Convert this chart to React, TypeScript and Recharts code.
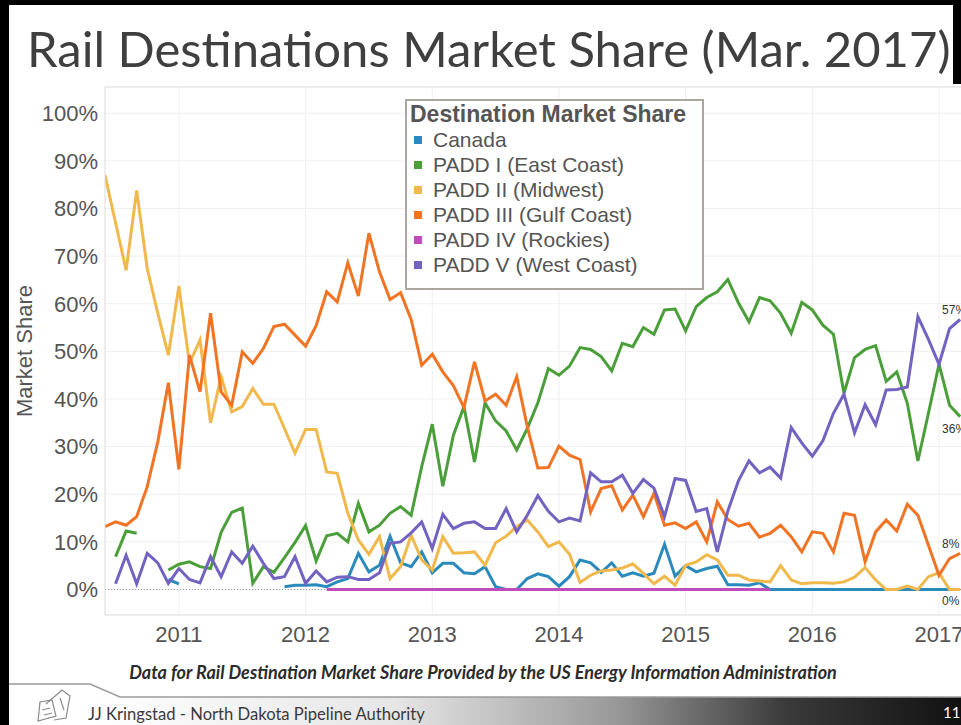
import React from "react";
import { CartesianGrid, Legend, Line, LineChart, ReferenceLine, XAxis, YAxis } from "recharts";

// monthly points, Jun 2010 .. Mar 2017
const firstYear = 2010;
const firstMonth = 6;
const monthCount = 82;

const canada = [
  null, null, null, null, null, null, 2.1, 1.2, null, null, null, null, null, 6.2, null, null, null, 0.6, 0.9, 0.9,
  1.0, 0.6, 1.6, 2.3, 7.6, 3.7, 5.1, 11.2, 5.6, 4.8, 7.9, 3.5, 5.5, 5.5, 3.5, 3.3, 4.8, 0.6, 0, 0,
  2.3, 3.3, 2.7, 0.7, 2.7, 6.2, 5.6, 3.6, 5.6, 2.8, 3.5, 2.8, 3.4, 9.5, 2.8, 5.0, 3.7, 4.4, 4.9, 1.0,
  1.0, 0.9, 1.4, 0, 0, 0, 0, 0, 0, 0, 0, 0, 0, 0, 0, 0, 0, 0, 0, 0,
  0, 0,
];

const paddI = [
  null, 6.9, 12.3, 11.8, null, null, 4.1, 5.3, 5.8, 4.8, 4.4, 12.0, 16.2, 17.1, 1.3, 4.8, 3.6, 6.7, 9.9, 13.4,
  6.0, 11.3, 11.8, 10.0, 18.1, 12.1, 13.5, 16.0, 17.4, 15.6, 25.8, 34.7, 21.7, 32.4, 38.4, 26.8, 39.2, 35.4, 33.3, 29.3,
  33.8, 39.2, 46.4, 45.0, 46.9, 50.8, 50.4, 48.9, 45.9, 51.7, 51.0, 55.0, 53.6, 58.7, 58.9, 54.3, 59.4, 61.3, 62.5, 65.1,
  60.2, 56.2, 61.3, 60.6, 58.0, 53.8, 60.3, 58.7, 55.5, 53.6, 41.2, 48.7, 50.4, 51.2, 43.7, 45.7, 39.1, 27.0, 37.0, 47.3,
  38.7, 36.3,
];

const paddII = [
  87.0, 77.0, 67.0, 83.8, 67.4, 58.0, 49.2, 63.7, 47.5, 52.4, 35.0, 44.7, 37.3, 38.4, 42.2, 38.9, 38.9, 33.8, 28.6, 33.6,
  33.6, 24.7, 24.4, 16.0, 10.4, 7.4, 11.1, 2.3, 4.8, 11.4, 6.2, 4.1, 11.1, 7.6, 7.7, 7.9, 5.1, 9.8, 11.2, 13.2,
  14.6, 12.1, 9.0, 10.0, 7.4, 1.5, 3.0, 3.9, 4.1, 4.5, 5.4, 3.4, 1.2, 2.8, 0.9, 5.1, 5.8, 7.3, 6.2, 3.0,
  3.0, 2.0, 1.8, 1.6, 5.0, 2.0, 1.2, 1.4, 1.4, 1.3, 1.6, 2.6, 4.6, 2.0, 0, 0, 0.7, 0, 2.7, 3.5,
  0, 0,
];

const paddIII = [
  13.2, 14.2, 13.5, 15.3, 21.6, 31.0, 43.4, 25.2, 49.2, 41.5, 58.0, 41.5, 38.7, 49.9, 47.5, 50.6, 55.2, 55.7, 53.4, 51.1,
  55.4, 62.5, 60.4, 68.6, 61.6, 74.8, 66.7, 60.9, 62.3, 56.7, 47.1, 49.4, 45.7, 42.8, 38.2, 47.8, 39.6, 41.0, 38.7, 44.7,
  34.2, 25.5, 25.6, 30.1, 28.2, 27.3, 16.3, 21.2, 21.8, 16.7, 19.8, 15.3, 20.2, 13.5, 14.0, 12.8, 14.2, 10.0, 18.4, 14.7,
  13.3, 13.9, 11.0, 11.8, 13.5, 11.1, 7.9, 12.1, 11.8, 7.9, 16.0, 15.6, 5.8, 12.1, 14.6, 12.3, 17.9, 15.6, 9.3, 3.0,
  6.5, 7.6,
];

const paddIV = [
  null, null, null, null, null, null, null, null, null, null, null, null, null, null, null, null, null, null, null, null,
  null, 0, 0, 0, 0, 0, 0, 0, 0, 0, 0, 0, 0, 0, 0, 0, 0, 0, 0, 0,
  0, 0, 0, 0, 0, 0, 0, 0, 0, 0, 0, 0, 0, 0, 0, 0, 0, 0, 0, 0,
  0, 0, 0, 0, null, null, null, null, null, null, null, null, null, null, null, null, null, null, null, null,
  null, null,
];

const paddV = [
  null, 1.2, 7.2, 1.2, 7.6, 5.6, 1.3, 4.4, 2.1, 1.4, 6.9, 2.7, 7.9, 5.5, 9.1, 5.5, 2.3, 2.7, 6.9, 1.3,
  3.9, 1.6, 2.6, 2.7, 2.1, 2.1, 3.5, 9.7, 10.0, 11.9, 14.2, 8.6, 15.8, 12.8, 13.9, 14.2, 12.8, 12.8, 17.0, 12.1,
  15.6, 19.7, 16.4, 14.2, 15.0, 14.4, 24.5, 22.6, 22.6, 24.0, 20.2, 23.1, 21.3, 15.3, 23.3, 22.9, 16.4, 17.0, 7.9, 16.5,
  22.8, 27.0, 24.5, 25.7, 23.4, 34.0, 30.8, 28.0, 31.2, 37.0, 41.0, 32.9, 38.8, 34.6, 41.9, 42.0, 42.5, 57.3, 52.5, 47.3,
  54.8, 56.7,
];

const yearTicks = [2011, 2012, 2013, 2014, 2015, 2016, 2017];
const shareTicks = [0, 10, 20, 30, 40, 50, 60, 70, 80, 90, 100];

const series = [
  { key: "canada", name: "Canada", color: "#2a8abb", values: canada, endLabel: true, labelDy: 11 },
  { key: "paddI", name: "PADD I (East Coast)", color: "#4b9f3a", values: paddI, endLabel: true, labelDy: 12 },
  { key: "paddII", name: "PADD II (Midwest)", color: "#f1b84b", values: paddII, endLabel: false, labelDy: 0 },
  { key: "paddIII", name: "PADD III (Gulf Coast)", color: "#f07424", values: paddIII, endLabel: true, labelDy: -10 },
  { key: "paddIV", name: "PADD IV (Rockies)", color: "#c04cbb", values: paddIV, endLabel: false, labelDy: 0 },
  { key: "paddV", name: "PADD V (West Coast)", color: "#7462c1", values: paddV, endLabel: true, labelDy: -10 },
];

const rows = Array.from({ length: monthCount }, (_, i) => {
  const m = firstMonth - 1 + i;
  const row: Record<string, number | null> = { t: firstYear + m / 12 };
  series.forEach((s) => {
    row[s.key] = s.values[i];
  });
  return row;
});

const axisFont = "'Liberation Sans', Arial, sans-serif";
const slideFont = "Lato, 'Open Sans', sans-serif";

function LegendBox() {
  return (
    <div
      style={{
        width: 295,
        height: 187,
        border: "2px solid #aaa79f",
        background: "#fff",
        fontFamily: axisFont,
        color: "#555",
        boxSizing: "content-box",
      }}
    >
      <div style={{ fontSize: 23, fontWeight: "bold", margin: "0 0 0 3px", lineHeight: "26px" }}>
        Destination Market Share
      </div>
      {series.map((s) => (
        <div key={s.key} style={{ display: "flex", alignItems: "center", height: 25, fontSize: 21, marginLeft: 7 }}>
          <span style={{ width: 8, height: 8, background: s.color, marginRight: 11, display: "inline-block" }} />
          <span>{s.name}</span>
        </div>
      ))}
    </div>
  );
}

function endLabel(dy: number, count: number) {
  return (props: any) => {
    const { index, value } = props;
    const x = props.x ?? props.viewBox?.x;
    const y = props.y ?? props.viewBox?.y;
    if (index !== count - 1 || value == null) return <g />;
    return (
      <text x={x - 18} y={y + dy} dy="0.35em" fontSize={12} fontFamily={axisFont} fill="#333">
        {Math.round(value)}%
      </text>
    );
  };
}

function Chart() {
  return (
    <LineChart width={977} height={660} data={rows} margin={{ top: 87, right: 0, left: 5, bottom: 0 }}>
      <CartesianGrid stroke="#efefef" />
      <XAxis
        dataKey="t"
        type="number"
        domain={[firstYear + (firstMonth - 1) / 12, 2017.3]}
        ticks={yearTicks}
        allowDataOverflow
        tickFormatter={(v) => String(v)}
        tick={{ fill: "#555", fontSize: 22, fontFamily: axisFont }}
        tickLine={false}
        tickSize={0}
        tickMargin={11}
        axisLine={{ stroke: "#e2e2e2" }}
        height={45}
      />
      <YAxis
        type="number"
        domain={[-5.35, 105.5]}
        ticks={shareTicks}
        allowDataOverflow
        tickFormatter={(v) => `${v}%`}
        tick={{ fill: "#555", fontSize: 22, fontFamily: axisFont }}
        tickLine={false}
        tickSize={0}
        tickMargin={7}
        axisLine={{ stroke: "#e2e2e2" }}
        width={100}
        label={{
          content: (p: any) => {
            const vb = p.viewBox || {};
            const cx = (vb.x ?? 5) + 19;
            const cy = (vb.y ?? 87) + (vb.height ?? 528) / 2;
            return (
              <text
                x={cx}
                y={cy}
                transform={`rotate(-90 ${cx} ${cy})`}
                textAnchor="middle"
                dominantBaseline="central"
                fontSize={22}
                fontFamily={axisFont}
                fill="#555"
              >
                Market Share
              </text>
            );
          },
        }}
      />
      <ReferenceLine y={105.5} stroke="#e2e2e2" />
      <ReferenceLine y={0} stroke="#9a9a9a" strokeDasharray="1 2" />
      {series.map((s) => (
        <Line
          key={s.key}
          type="linear"
          dataKey={s.key}
          name={s.name}
          stroke={s.color}
          strokeWidth={3}
          dot={false}
          activeDot={false}
          isAnimationActive={false}
          label={s.endLabel ? endLabel(s.labelDy, monthCount) : false}
        />
      ))}
      <Legend
        layout="horizontal"
        verticalAlign="middle"
        align="center"
        wrapperStyle={{ position: "absolute", left: 405, top: 99, width: "auto" }}
        content={() => <LegendBox />}
      />
    </LineChart>
  );
}

export default function App() {
  return (
    <div
      style={{
        position: "absolute",
        left: 0,
        top: 0,
        width: 961,
        height: 725,
        overflow: "hidden",
        background: "#fff",
      }}
    >
      <div style={{ position: "absolute", left: 0, top: 0 }}>
        <Chart />
      </div>

      <div
        style={{
          position: "absolute",
          left: 27,
          top: 23,
          fontFamily: slideFont,
          fontSize: 49,
          lineHeight: "50px",
          color: "#3f3f3f",
          whiteSpace: "nowrap",
        }}
      >
        Rail Destinations Market Share (Mar. 2017)
      </div>

      <div
        style={{
          position: "absolute",
          left: 0,
          width: 966,
          top: 661,
          textAlign: "center",
          fontFamily: slideFont,
          fontSize: 18,
          fontWeight: "bold",
          fontStyle: "italic",
          color: "#2b2b2b",
          whiteSpace: "nowrap",
        }}
      >
        Data for Rail Destination Market Share Provided by the US Energy Information Administration
      </div>

      {/* footer band */}
      <svg width={961} height={45} style={{ position: "absolute", left: 0, top: 680 }}>
        <defs>
          <linearGradient id="band" x1="0" x2="1" y1="0" y2="0">
            <stop offset="0" stopColor="#ffffff" />
            <stop offset="0.35" stopColor="#e6e6e6" />
            <stop offset="0.6" stopColor="#9a9a9a" />
            <stop offset="0.8" stopColor="#3a3a3a" />
            <stop offset="1" stopColor="#111111" />
          </linearGradient>
        </defs>
        <path d="M90 4 L120 17 L961 17 L961 45 L90 45 Z" fill="url(#band)" />
        <path d="M8 4 L90 4 L120 17 L961 17" fill="none" stroke="#9c9c9c" strokeWidth={1.5} />
        <g stroke="#8a8a8a" strokeWidth={1.2} fill="none">
          <path d="M38 41 L40 22 L52 20 L56 36 Z" />
          <path d="M46 24 L62 10 L70 16 L66 38 L54 40" />
          <path d="M42 30 L50 28 M44 35 L52 33 M60 18 L64 30" />
        </g>
        <text x={88} y={40} fontFamily={slideFont} fontSize={16.6} fill="#3a3a3a">
          JJ Kringstad - North Dakota Pipeline Authority
        </text>
        <text x={943} y={38} fontFamily={slideFont} fontSize={15} fill="#ffffff">
          11
        </text>
      </svg>

      {/* slide frame */}
      <div style={{ position: "absolute", left: 0, top: 0, width: 961, height: 5, background: "#000" }} />
      <div style={{ position: "absolute", left: 0, top: 0, width: 9, height: 725, background: "#000" }} />
      <div style={{ position: "absolute", left: 953, top: 0, width: 8, height: 84, background: "#000" }} />
    </div>
  );
}
